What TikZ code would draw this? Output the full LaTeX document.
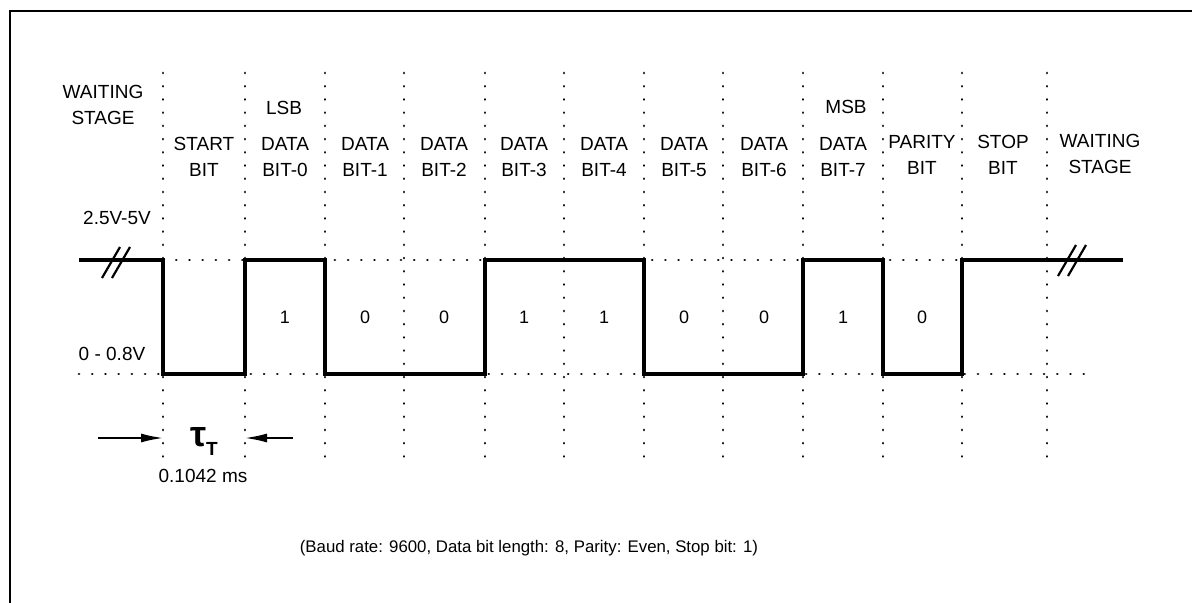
\documentclass[tikz,border=0pt]{standalone}
\usepackage{fontspec}
\setmainfont{Liberation Sans}
\usetikzlibrary{arrows.meta}
\begin{document}
\begin{tikzpicture}[x=0.5pt,y=-0.5pt,
  grid/.style={line width=1.4pt, dash pattern=on 0.01pt off 6.6pt, line cap=round},
  wave/.style={line width=2.2pt, line join=miter},
  brk/.style={line width=1.1pt},
  frame/.style={line width=1pt},
  lbl/.style={font=\fontsize{9.5}{13}\selectfont, align=center, inner sep=0pt},
  val/.style={font=\fontsize{9}{11}\selectfont, inner sep=0pt},
  arr/.style={line width=0.9pt, -{Latex[length=11pt,width=4.5pt]}}]
\useasboundingbox (0,0) rectangle (1192,603);
% frame
\coordinate (fa) at (10,603);
\coordinate (fb) at (10,11);
\coordinate (fc) at (1192,11);
\draw[frame] (fa) -- (fb) -- (fc);
% vertical dotted grid
\foreach \x [count=\i] in {163,245,325,404,485,564,644,723,803,883,962,1047}{
  \coordinate (t\i) at (\x,73);
  \coordinate (b\i) at (\x,458);
  \draw[grid] (t\i) -- (b\i);
}
% horizontal dotted levels
\coordinate (hA) at (163,260); \coordinate (hB) at (962,260);
\coordinate (lA) at (79,374);  \coordinate (lB) at (1093,374);
\draw[grid] (hA) -- (hB);
\draw[grid] (lA) -- (lB);
% waveform
\draw[wave] (79,260) -- (163,260) -- (163,374) -- (245,374) -- (245,260)
  -- (325,260) -- (325,374) -- (485,374) -- (485,260) -- (644,260)
  -- (644,374) -- (803,374) -- (803,260) -- (883,260) -- (883,374)
  -- (962,374) -- (962,260) -- (1123,260);
% break marks
\draw[brk] (102,278) -- (120,247);
\draw[brk] (112,278) -- (130,247);
\draw[brk] (1058,276) -- (1076,245);
\draw[brk] (1068,276) -- (1086,245);
% headings
\node[lbl] (wl) at (103,105) {WAITING\\STAGE};
\node[lbl] (lsb) at (284,108) {LSB};
\node[lbl] (msb) at (846,107) {MSB};
\node[lbl] (st) at (204,157) {START\\BIT};
\node[lbl] (d0) at (285,157) {DATA\\BIT-0};
\node[lbl] (d1) at (365,157) {DATA\\BIT-1};
\node[lbl] (d2) at (444,157) {DATA\\BIT-2};
\node[lbl] (d3) at (524,157) {DATA\\BIT-3};
\node[lbl] (d4) at (604,157) {DATA\\BIT-4};
\node[lbl] (d5) at (684,157) {DATA\\BIT-5};
\node[lbl] (d6) at (764,157) {DATA\\BIT-6};
\node[lbl] (d7) at (843,157) {DATA\\BIT-7};
\node[lbl] (pa) at (922,155) {PARITY\\BIT};
\node[lbl] (sp) at (1003,155) {STOP\\BIT};
\node[lbl] (wr) at (1100,154) {WAITING\\STAGE};
% level labels
\node[lbl] (hi) at (117,218) {2.5V-5V};
\node[lbl] (lo) at (112,354) {0 - 0.8V};
% bit values
\foreach \x/\v [count=\i] in {285/1,365/0,444/0,524/1,604/1,684/0,764/0,843/1,922/0}{
  \node[val] (v\i) at (\x,317) {\v};
}
% bit period
\coordinate (al) at (98,438);
\coordinate (ar) at (293,438);
\coordinate (pl) at (163,438);
\coordinate (pr) at (245,438);
\draw[arr] (al) -- (pl);
\draw[arr] (ar) -- (pr);
\node[inner sep=0pt] (tau) at (204,441) {\fontsize{18}{18}\selectfont\bfseries τ\raisebox{-4.5pt}{\fontsize{9.5}{10}\selectfont T}};
\node[lbl] (ms) at (203,476) {0.1042 ms};
% note
\node[inner sep=0pt, font=\fontsize{8.4}{10}\selectfont] (note) at (529,548) {(Baud rate: 9600, Data bit length: 8, Parity: Even, Stop bit: 1)};
\end{tikzpicture}
\end{document}
